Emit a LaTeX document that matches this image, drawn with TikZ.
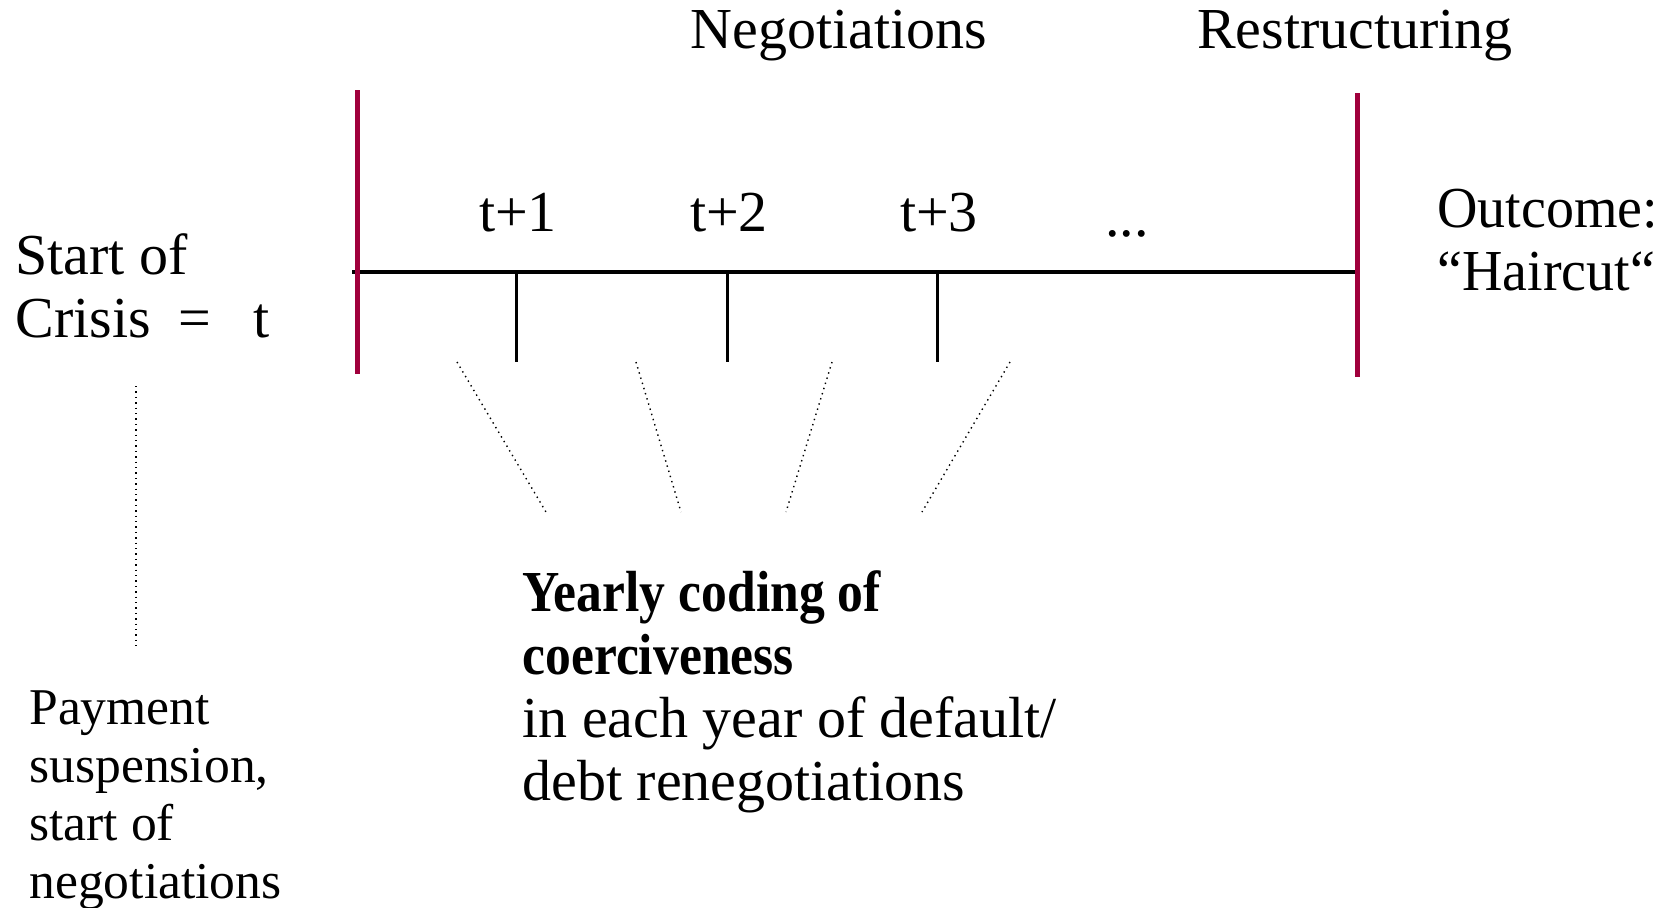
\documentclass[tikz,border=0pt]{standalone}
\usepackage{fontspec}
\usepackage{graphicx}
\setmainfont{Liberation Serif}
\definecolor{crimson}{RGB}{160,0,60}
\newcommand{\stk}[1]{\begin{tabular}[t]{@{}l@{}}#1\end{tabular}}
\begin{document}
\begin{tikzpicture}[x=0.5pt,y=-0.5pt,
  big/.style={inner sep=0pt,font=\fontsize{29pt}{31.5pt}\selectfont},
  small/.style={inner sep=0pt,font=\fontsize{25.8pt}{29pt}\selectfont},
  axisline/.style={line width=2pt},
  marker/.style={line width=2.5pt,crimson},
  tickline/.style={line width=1.5pt},
  dotline/.style={line width=0.7pt,dotted}]
\useasboundingbox (0,0) rectangle (1666,907);
% timeline
\coordinate (a0) at (352,272);
\coordinate (a1) at (1357,272);
\draw[axisline] (a0) -- (a1);
\coordinate (r1t) at (357,90);  \coordinate (r1b) at (357,374);
\coordinate (r2t) at (1357,93); \coordinate (r2b) at (1357,377);
\draw[marker] (r1t) -- (r1b);
\draw[marker] (r2t) -- (r2b);
\foreach \x/\n in {516/1,727/2,937/3}{
  \coordinate (tk\n a) at (\x,272);
  \coordinate (tk\n b) at (\x,362);
  \draw[tickline] (tk\n a) -- (tk\n b);
}
% labels
\node[big,anchor=base] (neg) at (839,48) {Negotiations};
\node[big,anchor=base] (res) at (1355,48) {Restructuring};
\node[big,anchor=base] (t1) at (518,231) {t+1};
\node[big,anchor=base] (t2) at (729,231) {t+2};
\node[big,anchor=base] (t3) at (939,231) {t+3};
\node[big,anchor=base] (dots) at (1127,236) {...};
\node[big,anchor=base west] (start) at (15,274) {\stk{Start of\\Crisis\hspace{14pt}=\hspace{21pt}t}};
\node[big,anchor=base west] (out) at (1437,227) {\stk{\scalebox{0.965}[1]{Outcome:}\\\scalebox{0.965}[1]{“Haircut“}}};
\node[small,anchor=base west] (pay) at (29,724) {\stk{Payment\\suspension,\\start of\\negotiations}};
\node[big,anchor=base west] (year) at (522,611) {\stk{\scalebox{0.89}[1]{\textbf{Yearly coding of}}\\\scalebox{0.89}[1]{\textbf{coerciveness}}\\in each year of default/\\debt renegotiations}};
% dotted connectors
\coordinate (v0) at (136,386); \coordinate (v1) at (136,646);
\draw[dotline] (v0) -- (v1);
\coordinate (d1a) at (457,362); \coordinate (d1b) at (546,512);
\coordinate (d2a) at (636,362); \coordinate (d2b) at (681,512);
\coordinate (d3a) at (832,362); \coordinate (d3b) at (786,512);
\coordinate (d4a) at (1010,362); \coordinate (d4b) at (922,512);
\draw[dotline] (d1a) -- (d1b);
\draw[dotline] (d2a) -- (d2b);
\draw[dotline] (d3a) -- (d3b);
\draw[dotline] (d4a) -- (d4b);
\end{tikzpicture}
\end{document}
